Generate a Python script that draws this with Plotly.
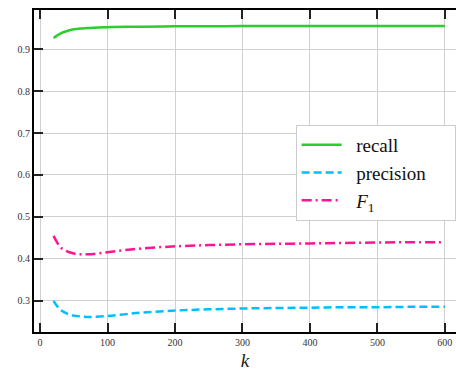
import plotly.graph_objects as go

k = [20, 25, 30, 40, 50, 60, 70, 80, 100, 125, 150, 200, 250, 300, 350, 400, 450, 500, 550, 600]
recall = [0.926, 0.932, 0.937, 0.943, 0.947, 0.949, 0.950, 0.951, 0.952, 0.953, 0.953, 0.954, 0.954,
          0.955, 0.955, 0.955, 0.955, 0.955, 0.955, 0.955]
precision = [0.300, 0.288, 0.279, 0.270, 0.265, 0.263, 0.262, 0.262, 0.264, 0.268, 0.272, 0.277, 0.280,
             0.282, 0.283, 0.284, 0.285, 0.285, 0.286, 0.286]
f1 = [0.455, 0.440, 0.428, 0.418, 0.413, 0.411, 0.411, 0.412, 0.416, 0.421, 0.425, 0.430, 0.433,
      0.435, 0.436, 0.437, 0.438, 0.439, 0.440, 0.440]

x_ticks = [0, 100, 200, 300, 400, 500, 600]
y_ticks = [0.3, 0.4, 0.5, 0.6, 0.7, 0.8, 0.9]

serif = "Liberation Serif, DejaVu Serif, serif"
NB = "\u00a0"

fig = go.Figure()
fig.add_trace(go.Scatter(x=k, y=recall, mode="lines", name=NB * 2 + "recall",
                         line=dict(color="#2ecc2e", width=2.5, shape="spline")))
fig.add_trace(go.Scatter(x=k, y=precision, mode="lines", name=NB * 2 + "precision" + NB * 5,
                         line=dict(color="#00bfff", width=2.5, dash="8px,4px", shape="spline")))
fig.add_trace(go.Scatter(x=k, y=f1, mode="lines", name=NB * 2 + "<i>F</i><sub>1</sub>",
                         line=dict(color="#ff1493", width=2.5, dash="10px,4px,2px,4px", shape="spline")))

axis_common = dict(showline=True, linecolor="black", linewidth=2,
                   ticks="inside", ticklen=9, tickwidth=2, tickcolor="#222",
                   showgrid=True, gridcolor="#d0d0d0", gridwidth=1, zeroline=False,
                   tickfont=dict(family=serif, size=10, color="#333"))

fig.update_xaxes(range=[-9, 616.5], tickvals=x_ticks, mirror="ticks",
                 title=dict(text="<i>k</i>", font=dict(family=serif, size=19, color="#222"), standoff=7),
                 **axis_common)
fig.update_yaxes(range=[0.226, 0.993], tickvals=y_ticks, tickformat=".1f", mirror=False, **axis_common)

fig.update_layout(
    width=456, height=372,
    margin=dict(l=34, r=0, t=10, b=40),
    plot_bgcolor="white", paper_bgcolor="white",
    legend=dict(x=0.62, y=0.643, xanchor="left", yanchor="top",
                bgcolor="white", bordercolor="#cccccc", borderwidth=1,
                font=dict(family=serif, size=19, color="#111"),
                itemwidth=40),
)

fig.write_html("out.html")
